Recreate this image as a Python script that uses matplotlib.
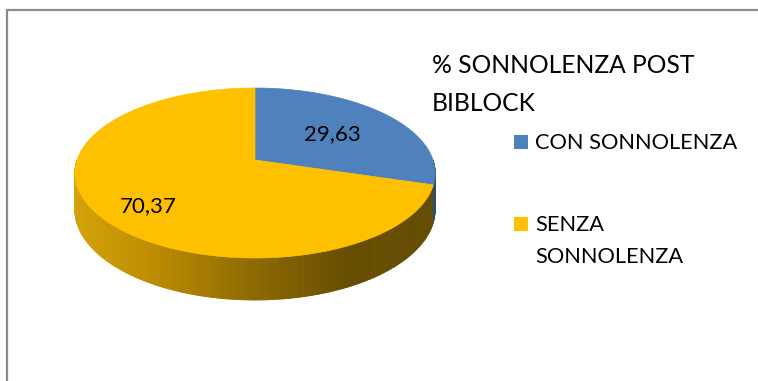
import numpy as np
import matplotlib
matplotlib.use("Agg")
import matplotlib.pyplot as plt
from matplotlib.patches import Polygon, Rectangle

plt.rcParams['font.family'] = ['Lato', 'DejaVu Sans']

# data
categories = ['CON SONNOLENZA', 'SENZA\nSONNOLENZA']
values = [29.63, 70.37]
labels = ['29,63', '70,37']
colors = ['#4F81BD', '#FFC000']
side_colors = ['#2F4D73', None]  # None -> gold gradient
title = '% SONNOLENZA POST\nBIBLOCK'

# pie geometry (pixel space)
cx, cy = 255, 160
rx, ry = 178, 83
k = 0.153       # perspective factor
depth = 42


def proj(t, r=1.0, drop=0.0):
    """project angle t (deg) on the tilted disk to screen coords"""
    tr = np.radians(t)
    f = 1.0 / (1.0 + k * r * np.sin(tr))
    x = cx + rx * r * np.cos(tr) * f
    y = cy - ry * r * np.sin(tr) * f + drop * (1 - k) * f
    return x, y


def gold(x):
    """shade of the gold side wall depending on horizontal position"""
    xs = [75, 150, 255, 350, 435]
    rs = [212, 190, 140, 102, 100]
    gs = [162, 142, 105, 76, 78]
    bs = [10, 0, 0, 0, 4]
    return (np.interp(x, xs, rs) / 255, np.interp(x, xs, gs) / 255,
            np.interp(x, xs, bs) / 255)


fig = plt.figure(figsize=(7.58, 3.81), dpi=100)
ax = fig.add_axes([0, 0, 1, 1])
ax.set_xlim(0, 758)
ax.set_ylim(381, 0)
ax.axis('off')

# outer frame
ax.plot([7, 7, 760], [383, 10, 10], color='#8c8c8c', lw=1.6,
        solid_joinstyle='miter')

# slice angles, clockwise from the top
total = sum(values)
bounds = [90.0]
for v in values:
    bounds.append(bounds[-1] - 360.0 * v / total)


def slice_of(t):
    for i in range(len(values)):
        lo, hi = bounds[i + 1], bounds[i]
        for tt in (t, t - 360, t + 360):
            if lo <= tt <= hi:
                return i
    return len(values) - 1


# side wall, visible front half only
ts = np.linspace(180, 360, 361)
for a, b in zip(ts[:-1], ts[1:]):
    x1, y1 = proj(a)
    x2, y2 = proj(b)
    x3, y3 = proj(b, drop=depth)
    x4, y4 = proj(a, drop=depth)
    i = slice_of((a + b) / 2)
    c = side_colors[i] if side_colors[i] else gold((x1 + x2) / 2)
    ax.add_patch(Polygon([(x1, y1), (x2, y2), (x3, y3), (x4, y4)],
                         closed=True, facecolor=c, edgecolor=c, lw=0.6))

# top face
for i in range(len(values)):
    arc = np.linspace(bounds[i], bounds[i + 1], 200)
    xs, ys = proj(arc)
    pts = [(cx, cy)] + list(zip(xs, ys))
    ax.add_patch(Polygon(pts, closed=True, facecolor=colors[i],
                         edgecolor=colors[i], lw=0.5))

# value labels
ax.text(332, 134, labels[0], fontsize=16, ha='center', va='center')
ax.text(148, 206, labels[1], fontsize=16, ha='center', va='center')

# title
ax.text(432, 54, title, fontsize=17.7, ha='left', va='top',
        linespacing=1.8)

# legend
leg_y = [142, 224]
for i, name in enumerate(categories):
    ax.add_patch(Rectangle((514, leg_y[i] - 7), 14, 14, facecolor=colors[i],
                           edgecolor='none'))
    ax.text(535, leg_y[i] - 9, name, fontsize=15.7, ha='left', va='top',
            linespacing=1.75)

fig.savefig('out.png', dpi=100, facecolor='white')
